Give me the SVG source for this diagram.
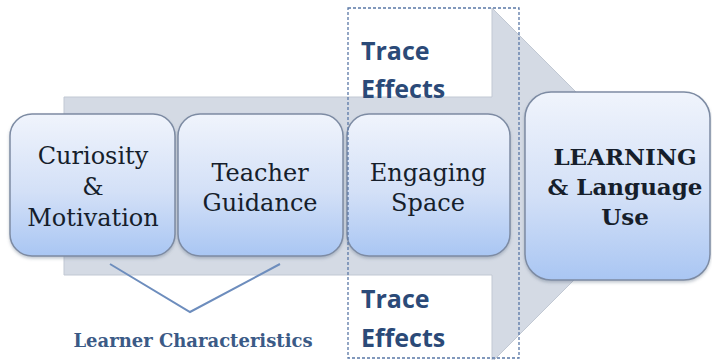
<svg xmlns="http://www.w3.org/2000/svg" width="712" height="360" viewBox="0 0 712 360">
  <style>
    .node rect { fill: url(#nodeFill); stroke: #7d8ba3; stroke-width: 1.5; filter: url(#soft); }
    .label { font-family: "DejaVu Serif", "Liberation Serif", serif; font-size: 24px; fill: #161e2b; text-anchor: middle; }
    .strong { font-weight: bold; font-size: 23px; }
    .trace { font-family: "Open Sans", "Liberation Sans", sans-serif; font-weight: bold; font-size: 25px; fill: #2b4a78; }
    .caption { font-family: "DejaVu Serif", "Liberation Serif", serif; font-weight: bold; font-size: 18px; fill: #3b5a86; text-anchor: middle; }
  </style>
  <defs>
    <linearGradient id="nodeFill" x1="0" y1="0" x2="0" y2="1">
      <stop offset="0" stop-color="#f0f4fc"/>
      <stop offset="0.55" stop-color="#d3e0f7"/>
      <stop offset="1" stop-color="#a9c6f3"/>
    </linearGradient>
    <filter id="soft" x="-10%" y="-10%" width="120%" height="125%">
      <feDropShadow dx="0" dy="2" stdDeviation="1.5" flood-color="#5a6a80" flood-opacity="0.35"/>
    </filter>
  </defs>

  <rect width="712" height="360" fill="#ffffff"/>

  <!-- broad block arrow behind the nodes -->
  <polygon points="64,97 492,97 492,8 669,185 492,362 492,275 64,275" fill="#d4dae4" stroke="#c1c8d3" stroke-width="1"/>

  <g id="curiosity" class="node">
    <rect x="10" y="114" width="165" height="142" rx="22"/>
    <text class="label" x="93" y="164">Curiosity</text>
    <text class="label" x="93" y="195">&amp;</text>
    <text class="label" x="93" y="226">Motivation</text>
  </g>

  <g id="teacher" class="node">
    <rect x="178" y="114" width="165" height="142" rx="22"/>
    <text class="label" x="260" y="181">Teacher</text>
    <text class="label" x="260" y="211">Guidance</text>
  </g>

  <g id="engaging" class="node">
    <rect x="347" y="114" width="163" height="142" rx="22"/>
    <text class="label" x="428" y="181">Engaging</text>
    <text class="label" x="428" y="211">Space</text>
  </g>

  <g id="learning" class="node">
    <rect x="525" y="92" width="185" height="188" rx="26"/>
    <text class="label strong" x="625" y="165">LEARNING</text>
    <text class="label strong" x="625" y="195">&amp; Language</text>
    <text class="label strong" x="625" y="225">Use</text>
  </g>

  <!-- trace effects band -->
  <g id="trace-effects">
    <rect x="348" y="8" width="171" height="350" fill="none" stroke="#5a78a6" stroke-width="1.3" stroke-dasharray="3,2"/>
    <text class="trace" x="361" y="60">Trace</text>
    <text class="trace" x="361" y="98">Effects</text>
    <text class="trace" x="361" y="308">Trace</text>
    <text class="trace" x="361" y="347">Effects</text>
  </g>

  <g id="connectors">
    <polyline points="110,264 190,312 280,264" fill="none" stroke="#6d8dbd" stroke-width="2"/>
  </g>

  <g id="learner-characteristics">
    <text class="caption" x="193" y="347">Learner Characteristics</text>
  </g>
</svg>
